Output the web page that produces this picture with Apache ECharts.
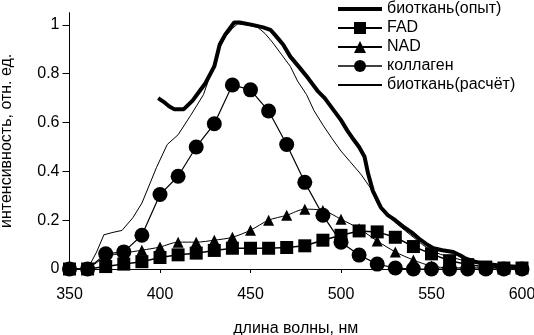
<!DOCTYPE html>
<html>
<head>
<meta charset="utf-8">
<script src="https://cdn.jsdelivr.net/npm/echarts@6/dist/echarts.min.js"></script>
<style>
  html, body { margin: 0; padding: 0; background: #fff; }
  #chart { width: 534px; height: 335px; }
</style>
</head>
<body>
<div id="chart"></div>
<script>
// wavelengths for the marker series, nm
const wavelengths = [350, 360, 370, 380, 390, 400, 410, 420, 430, 440, 450, 460, 470,
  480, 490, 500, 510, 520, 530, 540, 550, 560, 570, 580, 590, 600]

const fad = [0, 0, 0.01, 0.02, 0.03, 0.047, 0.058, 0.065, 0.076, 0.085, 0.085, 0.085, 0.088,
  0.095, 0.118, 0.138, 0.156, 0.152, 0.13, 0.092, 0.062, 0.034, 0.018, 0.008, 0.004, 0.004]

const nad = [0, 0.005, 0.05, 0.065, 0.077, 0.09, 0.11, 0.11, 0.118, 0.13, 0.159, 0.2, 0.22,
  0.245, 0.24, 0.204, 0.165, 0.115, 0.07, 0.037, 0.012, 0.005, 0.005, 0.005, 0.005, 0.005]

const collagen = [0, 0, 0.062, 0.07, 0.138, 0.305, 0.38, 0.5, 0.595, 0.754, 0.734, 0.647, 0.51,
  0.355, 0.22, 0.11, 0.057, 0.02, 0.004, 0, 0, 0, 0, 0, 0, 0]

// experimental tissue spectrum [nm, value]
const tissueExp = [[399, 0.7], [402, 0.685], [405, 0.667], [408, 0.654], [413, 0.654], [418, 0.69],
  [422, 0.73], [425, 0.76], [430, 0.83], [433, 0.92], [436, 0.96], [441, 1.01], [444, 1.01],
  [451, 1.0], [457, 0.99], [461, 0.98], [464, 0.955], [468, 0.92], [472, 0.87], [477, 0.826],
  [482, 0.78], [487, 0.73], [491, 0.7], [496, 0.65], [500, 0.61], [503.5, 0.567], [506, 0.54],
  [510, 0.5], [513, 0.46], [515, 0.39], [517.6, 0.32], [522, 0.252], [526, 0.22], [530, 0.2],
  [535, 0.17], [539, 0.15], [543, 0.125], [547, 0.103], [551, 0.085], [556, 0.077], [562, 0.07],
  [566, 0.055], [569, 0.042], [574, 0.03], [579, 0.022], [590, 0.012], [600, 0.008]]

// calculated tissue spectrum [nm, value]
const tissueCalc = [[360, 0], [365, 0.07], [369, 0.14], [374, 0.15], [379, 0.158], [385, 0.21],
  [390, 0.27], [395, 0.36], [398, 0.415], [404, 0.51], [410, 0.55], [417, 0.63], [424, 0.714],
  [428, 0.8], [432, 0.89], [436, 0.95], [440, 0.985], [443, 1.005], [448, 1.0], [454, 0.99],
  [458, 0.965], [462, 0.93], [467, 0.88], [472, 0.83], [476, 0.77], [481, 0.714], [485, 0.65],
  [490, 0.59], [495, 0.535], [500, 0.483], [505, 0.44], [511, 0.388], [516, 0.335], [520, 0.27],
  [525, 0.225], [530, 0.19], [535, 0.16], [540, 0.13], [545, 0.1], [550, 0.075], [555, 0.06],
  [560, 0.05], [570, 0.03], [580, 0.015], [600, 0.005]]

const yTicks = [0, 0.2, 0.4, 0.6, 0.8, 1]

const names = ['биоткань(опыт)', 'FAD', 'NAD', 'коллаген', 'биоткань(расчёт)']

const font = 'Arial, "Liberation Sans", sans-serif'

function pairs(values) {
  return wavelengths.map((w, i) => [w, values[i]])
}

const chart = echarts.init(document.getElementById('chart'), null, { renderer: 'canvas' })

chart.setOption({
  animation: false,
  backgroundColor: '#fff',
  textStyle: { fontFamily: font, color: '#000' },
  grid: { left: 69.5, right: 12, top: 12.7, bottom: 66, containLabel: false, outerBoundsMode: 'none' },
  legend: {
    orient: 'vertical',
    left: 331,
    top: -4,
    itemWidth: 44,
    itemHeight: 15,
    itemGap: 3,
    textStyle: { fontSize: 16, fontFamily: font, color: '#000' },
    data: [
      { name: names[0], itemStyle: { color: 'transparent', borderWidth: 0 }, lineStyle: { width: 4 } },
      { name: names[1], lineStyle: { width: 2 } },
      { name: names[2] },
      { name: names[3], lineStyle: { width: 1.5 } },
      { name: names[4], itemStyle: { color: 'transparent', borderWidth: 0 } }
    ]
  },
  xAxis: {
    type: 'value',
    min: 350,
    max: 600,
    interval: 50,
    name: 'длина волны, нм',
    nameLocation: 'middle',
    nameGap: 52,
    nameTextStyle: { fontSize: 16, color: '#000' },
    axisLine: { lineStyle: { color: '#000', width: 1 } },
    axisTick: { length: 4, lineStyle: { color: '#000' } },
    axisLabel: { fontSize: 16, color: '#000', margin: 18 },
    splitLine: { show: false }
  },
  yAxis: {
    type: 'value',
    min: 0,
    max: 1.05,
    interval: 0.2,
    name: 'интенсивность, отн. ед.',
    nameLocation: 'middle',
    nameGap: 55,
    nameTextStyle: { fontSize: 16, color: '#000' },
    axisLine: { show: true, lineStyle: { color: '#000', width: 1 } },
    axisTick: { show: true, length: 7, customValues: yTicks, lineStyle: { color: '#000' } },
    axisLabel: { fontSize: 16, color: '#000', margin: 10, customValues: yTicks },
    splitLine: { show: false }
  },
  series: [
    {
      name: names[0],
      type: 'line',
      data: tissueExp,
      showSymbol: false,
      symbol: 'circle',
      lineStyle: { color: '#000', width: 4 },
      itemStyle: { color: '#000' },
      z: 3
    },
    {
      name: names[1],
      type: 'line',
      data: pairs(fad),
      symbol: 'rect',
      symbolSize: 13,
      lineStyle: { color: '#000', width: 1.5 },
      itemStyle: { color: '#000' },
      z: 4
    },
    {
      name: names[2],
      type: 'line',
      data: pairs(nad),
      symbol: 'triangle',
      symbolSize: 11,
      smooth: 0.3,
      lineStyle: { color: '#000', width: 1 },
      itemStyle: { color: '#000' },
      z: 4
    },
    {
      name: names[3],
      type: 'line',
      data: pairs(collagen),
      symbol: 'circle',
      symbolSize: 15,
      lineStyle: { color: '#000', width: 1.2 },
      itemStyle: { color: '#000' },
      z: 4
    },
    {
      name: names[4],
      type: 'line',
      data: tissueCalc,
      showSymbol: false,
      symbol: 'circle',
      lineStyle: { color: '#000', width: 1 },
      itemStyle: { color: '#000' },
      z: 3
    }
  ]
})
</script>
</body>
</html>
